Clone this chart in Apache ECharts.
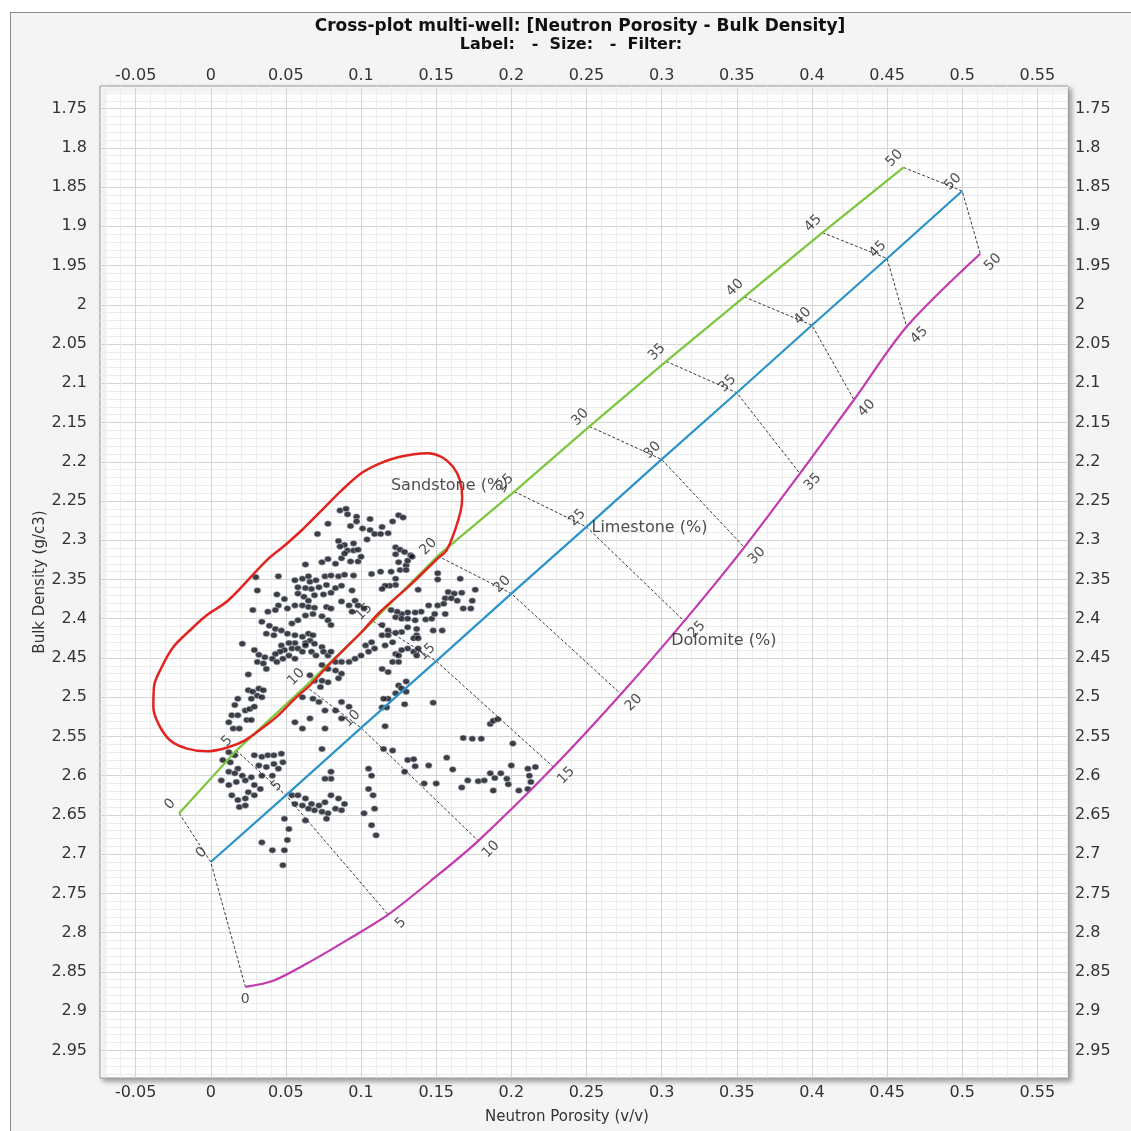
<!DOCTYPE html>
<html><head><meta charset="utf-8">
<script src="https://cdn.jsdelivr.net/npm/echarts@6/dist/echarts.min.js"></script>
<style>
html,body{margin:0;padding:0;background:#fff;}
#wrap{position:absolute;left:10px;top:12px;width:1121px;height:1119px;border-left:1px solid #8a8a8a;border-top:1px solid #8a8a8a;background:#f4f4f4;overflow:hidden;}
#chart{width:1121px;height:1119px;}
</style></head><body><div id="wrap"><div id="chart"></div></div>
<script>
// ---- axis ticks ----
const xTicks = [-0.05,0,0.05,0.1,0.15,0.2,0.25,0.3,0.35,0.4,0.45,0.5,0.55];
const yTicks = [1.75,1.8,1.85,1.9,1.95,2,2.05,2.1,2.15,2.2,2.25,2.3,2.35,2.4,2.45,2.5,2.55,2.6,2.65,2.7,2.75,2.8,2.85,2.9,2.95];
const xMin = -0.0737, xMax = 0.5704, yMin = 1.7212, yMax = 2.9852;

// ---- lithology lines (porosity ticks every 5%) ----
const porosityLabels = ['0','5','10','15','20','25','30','35','40','45','50'];
const sandNeutron = [-0.021,0.017,0.063,0.108,0.151,0.202,0.252,0.303,0.355,0.407,0.461];
const sandDensity = [2.648,2.568,2.486,2.403,2.320,2.238,2.155,2.072,1.990,1.908,1.825];
const limeNeutron = [0.000,0.050,0.100,0.150,0.200,0.250,0.300,0.350,0.400,0.450,0.500];
const limeDensity = [2.710,2.625,2.539,2.454,2.368,2.283,2.197,2.112,2.026,1.941,1.855];
const doloNeutron = [0.023,0.118,0.178,0.228,0.273,0.315,0.355,0.392,0.428,0.463,0.512];
const doloDensity = [2.869,2.777,2.683,2.589,2.496,2.403,2.309,2.215,2.121,2.028,1.935];
// dolomite curve shape points
const doloCurveNeutron = [0.023,0.042,0.068,0.092,0.118,0.149,0.178,0.228,0.273,0.315,0.355,0.392,0.428,0.463,0.512];
const doloCurveDensity = [2.869,2.861,2.835,2.808,2.777,2.730,2.683,2.589,2.496,2.403,2.309,2.215,2.121,2.028,1.935];
const lithologyNames = ['Sandstone (%)','Limestone (%)','Dolomite (%)'];

// ---- red highlight outline ----
const ellipseNeutron = [0.0605,0.0738,0.0871,0.1004,0.1126,0.1245,0.1352,0.1445,0.1536,0.1613,0.1658,0.1673,0.1664,0.1625,0.1569,0.1511,0.1325,0.1126,0.1004,0.0893,0.0782,0.0671,0.0560,0.0449,0.0339,0.0228,0.0115,-0.0025,-0.0158,-0.0271,-0.0349,-0.0382,-0.0378,-0.0326,-0.0249,-0.0138,-0.0027,0.0117,0.0372,0.0494,0.0605];
const ellipseDensity = [2.2873,2.2618,2.2364,2.2143,2.2020,2.1943,2.1905,2.1892,2.1939,2.2067,2.2236,2.2449,2.2618,2.2873,2.3128,2.3230,2.3574,2.3914,2.4169,2.4381,2.4593,2.4827,2.5018,2.5231,2.5400,2.5549,2.5638,2.5689,2.5655,2.5549,2.5336,2.5125,2.4870,2.4615,2.4360,2.4147,2.3956,2.3765,2.3256,2.3064,2.2873];

// ---- well data: neutron porosity (v/v) ----
const wellNeutron = [
0.148,0.129,0.116,0.168,0.174,0.180,0.201,0.186,0.188,0.191,0.157,0.161,0.200,0.145,0.142,0.150,0.167,0.171,0.178,0.182,0.186,0.189,0.193,0.197,0.198,0.205,0.211,0.216,0.212,0.213,0.211,0.188,0.131,0.135,0.129,0.136,0.121,0.115,
0.151,0.151,0.166,0.176,0.138,0.158,0.162,0.167,0.156,0.160,0.164,0.151,0.155,0.145,0.140,0.136,0.131,0.127,0.124,0.120,0.123,0.127,0.131,0.136,0.143,0.147,0.149,0.156,0.168,0.173,0.174,0.148,0.154,0.137,0.131,0.127,0.123,0.118,0.114,0.114,0.118,0.121,0.116,0.137,0.135,0.138,0.131,0.127,0.123,0.125,0.135,0.137,0.138,0.121,0.125,0.114,0.118,0.130,0.125,0.127,0.130,0.123,0.118,0.115,0.114,0.117,0.123,0.120,0.126,0.130,0.130,0.131,0.125,0.123,0.119,0.116,0.114,0.113,
0.030,0.045,0.031,0.028,0.063,0.074,0.078,0.083,0.087,0.093,0.098,0.107,0.056,0.061,0.065,0.066,0.070,0.076,0.080,0.085,0.089,0.095,0.058,0.063,0.067,0.072,0.077,0.083,0.087,0.094,0.058,0.062,0.065,0.069,0.075,0.080,0.044,0.049,0.045,0.043,0.038,0.051,0.056,0.061,0.065,0.069,0.077,0.080,0.087,0.092,0.096,0.098,0.094,0.102,0.034,0.039,0.043,0.037,0.042,0.047,0.051,0.054,0.058,0.063,0.068,0.074,0.078,0.080,0.056,0.061,0.065,0.068,0.066,0.063,0.056,0.052,0.047,0.049,0.054,0.058,0.063,0.061,0.069,0.074,0.046,0.043,0.041,0.036,0.032,0.029,0.031,0.035,0.037,0.021,0.044,0.048,0.052,0.056,0.067,0.070,0.075,0.078,0.080,0.083,0.087,0.092,0.096,0.103,0.107,0.109,0.105,0.100,0.074,0.078,0.083,0.087,0.085,0.078,0.074,0.069,0.066,0.025,
0.025,0.028,0.032,0.035,0.031,0.027,0.034,0.018,0.016,0.023,0.026,0.029,0.014,0.018,0.024,0.012,0.015,0.019,0.027,
0.073,0.061,0.068,0.072,0.076,0.083,0.087,0.092,0.087,0.076,0.056,0.061,0.066,
0.012,0.016,0.008,0.013,0.018,0.012,0.016,0.021,0.007,0.012,0.017,0.023,0.027,0.029,0.014,0.018,0.023,0.025,0.029,0.033,0.019,0.023,0.029,0.034,0.038,0.042,0.032,0.037,0.042,0.047,0.048,0.045,0.041,0.034,
0.054,0.058,0.063,0.067,0.072,0.076,0.080,0.085,0.089,0.083,0.078,0.074,0.069,0.065,0.061,0.056,0.087,0.063,0.077,
0.049,0.052,0.051,0.049,0.041,0.034,0.048,0.074,0.080,0.080,0.076,
0.105,0.107,0.105,0.108,0.109,0.102,0.107,0.110,
0.086,0.090,0.091,0.097,0.106,0.078,0.093,0.097,0.101,0.106,0.109,0.071,0.104,0.085,0.089,0.086,0.095,0.091,0.095,0.098,0.089,0.100,
0.125,0.128,0.121,0.114,0.118,0.113,0.123,0.126,0.129,0.123,0.133,0.134];
// ---- well data: bulk density (g/c3) ----
const wellDensity = [
2.507,2.509,2.537,2.552,2.553,2.553,2.559,2.534,2.530,2.528,2.577,2.592,2.587,2.587,2.610,2.610,2.615,2.606,2.607,2.606,2.597,2.603,2.597,2.604,2.611,2.619,2.591,2.589,2.600,2.608,2.617,2.619,2.580,2.579,2.595,2.588,2.568,2.566,
2.342,2.350,2.349,2.363,2.363,2.366,2.368,2.367,2.374,2.374,2.377,2.383,2.381,2.383,2.391,2.392,2.392,2.394,2.391,2.389,2.398,2.400,2.400,2.402,2.401,2.400,2.394,2.394,2.387,2.387,2.377,2.415,2.415,2.413,2.411,2.417,2.418,2.415,2.408,2.421,2.421,2.430,2.434,2.421,2.425,2.425,2.438,2.440,2.445,2.447,2.442,2.447,2.438,2.455,2.455,2.464,2.468,2.480,2.485,2.489,2.493,2.495,2.502,2.502,2.513,2.513,2.349,2.340,2.338,2.332,2.338,2.326,2.328,2.357,2.358,2.358,2.362,2.340,
2.347,2.346,2.364,2.389,2.331,2.328,2.324,2.330,2.323,2.327,2.327,2.343,2.351,2.349,2.346,2.353,2.351,2.346,2.345,2.346,2.344,2.345,2.360,2.361,2.362,2.360,2.357,2.361,2.358,2.364,2.368,2.372,2.377,2.370,2.369,2.367,2.369,2.375,2.383,2.389,2.391,2.387,2.383,2.383,2.385,2.386,2.385,2.387,2.378,2.383,2.377,2.383,2.391,2.387,2.404,2.409,2.413,2.419,2.421,2.415,2.419,2.406,2.402,2.396,2.394,2.397,2.402,2.408,2.421,2.423,2.419,2.421,2.428,2.431,2.431,2.431,2.434,2.440,2.438,2.438,2.434,2.442,2.432,2.436,2.442,2.445,2.451,2.449,2.446,2.440,2.455,2.457,2.464,2.432,2.455,2.451,2.447,2.451,2.442,2.447,2.442,2.447,2.442,2.455,2.455,2.455,2.451,2.434,2.430,2.438,2.442,2.447,2.459,2.464,2.466,2.470,2.476,2.481,2.479,2.479,2.472,2.471,
2.491,2.493,2.489,2.491,2.498,2.502,2.500,2.502,2.510,2.517,2.515,2.512,2.523,2.523,2.529,2.532,2.540,2.540,2.529,
2.487,2.500,2.502,2.506,2.517,2.517,2.506,2.512,2.527,2.540,2.532,2.540,2.527,
2.570,2.574,2.580,2.583,2.591,2.595,2.597,2.600,2.606,2.612,2.608,2.606,2.602,2.612,2.625,2.631,2.629,2.621,2.625,2.617,2.640,2.638,2.574,2.576,2.574,2.574,2.587,2.589,2.585,2.572,2.583,2.591,2.600,2.600,
2.625,2.625,2.629,2.636,2.638,2.634,2.625,2.629,2.636,2.642,2.648,2.646,2.644,2.642,2.638,2.636,2.644,2.657,2.655,
2.655,2.668,2.682,2.695,2.695,2.685,2.714,2.566,2.595,2.604,2.604,
2.591,2.600,2.617,2.625,2.642,2.648,2.663,2.676,
2.262,2.260,2.267,2.270,2.273,2.279,2.282,2.276,2.285,2.287,2.292,2.292,2.299,2.301,2.306,2.308,2.304,2.313,2.313,2.312,2.317,2.321,
2.268,2.271,2.276,2.283,2.291,2.292,2.309,2.312,2.315,2.318,2.319,2.321];

const FONT = 'DejaVu Sans';
function fmt(v){
  const k = v/0.05;
  if (Math.abs(k-Math.round(k))>1e-6) return '';
  const r = Math.round(v*100)/100;
  return String(r === 0 ? 0 : r);
}
function pts(a,b){ return a.map((v,i)=>[v,b[i]]); }

const chart = echarts.init(document.getElementById('chart'), null, {renderer:'canvas'});

function mkX(pos){
  return {type:'value', position:pos, min:xMin, max:xMax, splitNumber:13,
    axisLine:{show:false}, axisTick:{show:false, customValues:xTicks},
    axisLabel:{customValues:xTicks, formatter:fmt, color:'#333', fontFamily:FONT, fontSize:16, margin: pos==='top'?2:7},
    splitLine:{show:pos==='bottom', lineStyle:{color:'#d4d4d4', width:1}},
    minorTick:{show:false, splitNumber:5},
    minorSplitLine:{show:pos==='bottom', lineStyle:{color:'#ececec', width:1}}};
}
function mkY(pos){
  return {type:'value', position:pos, inverse:true, min:yMin, max:yMax, splitNumber:25,
    axisLine:{show:false}, axisTick:{show:false, customValues:yTicks},
    axisLabel:{customValues:yTicks, formatter:fmt, color:'#333', fontFamily:FONT, fontSize:16,
      margin: pos==='left'?13:7, align: pos==='left'?'right':'left'},
    splitLine:{show:pos==='left', lineStyle:{color:'#d4d4d4', width:1}},
    minorTick:{show:false, splitNumber:5},
    minorSplitLine:{show:pos==='left', lineStyle:{color:'#ececec', width:1}}};
}

function tickLabels(n, d, special){
  return pts(n,d).map((p,i)=>{
    const item = {value:[p[0],p[1],porosityLabels[i]]};
    if (special && special[i]) item.label = special[i];
    return item;
  });
}
const labelBase = {show:true, position:'inside', rotate:45, color:'#222', fontFamily:FONT, fontSize:14,
  align:'center', verticalAlign:'middle', formatter:p=>p.value[2]};

const connectors = porosityLabels.map((l,i)=>({coords:[[sandNeutron[i],sandDensity[i]],[limeNeutron[i],limeDensity[i]],[doloNeutron[i],doloDensity[i]]]}));

const option = {
  animation:false,
  backgroundColor:'#f4f4f4',
  grid:{left:89, top:73, width:968, height:992, show:true, backgroundColor:'#ffffff', borderColor:'#9a9a9a', borderWidth:1,
        shadowColor:'rgba(0,0,0,0.35)', shadowBlur:5, shadowOffsetX:3, shadowOffsetY:3},
  xAxis:[mkX('bottom'), mkX('top')],
  yAxis:[mkY('left'), mkY('right')],
  graphic:[
    {type:'text', x:569, y:14, style:{text:'Cross-plot multi-well: [Neutron Porosity - Bulk Density]', font:'bold 17px "DejaVu Sans"', fill:'#111', textAlign:'center', textVerticalAlign:'middle'}},
    {type:'text', x:560, y:32, style:{text:'Label:   -  Size:   -  Filter:', font:'bold 16px "DejaVu Sans"', fill:'#111', textAlign:'center', textVerticalAlign:'middle'}},
    {type:'text', x:556, y:1104, style:{text:'Neutron Porosity (v/v)', font:'15px "DejaVu Sans"', fill:'#333', textAlign:'center', textVerticalAlign:'middle'}},
    {type:'text', x:29, y:569, rotation:Math.PI/2, style:{text:'Bulk Density (g/c3)', font:'15px "DejaVu Sans"', fill:'#333', textAlign:'center', textVerticalAlign:'middle'}}
  ],
  series:[
    {type:'scatter', name:'wells', data:pts(wellNeutron, wellDensity), symbolSize:[7,6], z:3,
      itemStyle:{color:'#0e0f18', borderColor:'#c9d4dd', borderWidth:0.7}},
    {type:'lines', coordinateSystem:'cartesian2d', polyline:true, data:connectors, z:4, silent:true,
      lineStyle:{color:'#222', width:0.9, type:[3,2], opacity:1}},
    {type:'line', name:'Sandstone', data:pts(sandNeutron,sandDensity), showSymbol:false, z:5,
      lineStyle:{color:'#7cc63c', width:2.2}, itemStyle:{color:'#7cc63c'}},
    {type:'line', name:'Limestone', data:pts(limeNeutron,limeDensity), showSymbol:false, z:5,
      lineStyle:{color:'#2a93c9', width:2.2}, itemStyle:{color:'#2a93c9'}},
    {type:'line', name:'Dolomite', data:pts(doloCurveNeutron,doloCurveDensity), showSymbol:false, smooth:0.3, z:5,
      lineStyle:{color:'#c23aae', width:2.2}, itemStyle:{color:'#c23aae'}},
    {type:'line', name:'highlight', data:pts(ellipseNeutron,ellipseDensity), showSymbol:false, smooth:0.35, z:6,
      lineStyle:{color:'#e3231f', width:2.5}, itemStyle:{color:'#e3231f'}},
    {type:'scatter', data:tickLabels(sandNeutron,sandDensity), symbolSize:0, z:7, silent:true,
      label:Object.assign({}, labelBase, {offset:[0,-13]})},
    {type:'scatter', data:tickLabels(limeNeutron,limeDensity), symbolSize:0, z:7, silent:true,
      label:Object.assign({}, labelBase, {offset:[0,-13]})},
    {type:'scatter', data:tickLabels(doloNeutron,doloDensity,{0:{rotate:0, offset:[0,13]}}), symbolSize:0, z:7, silent:true,
      label:Object.assign({}, labelBase, {offset:[3,15]})},
    {type:'scatter', symbolSize:0, z:7, silent:true,
      data:[
        {value:[sandNeutron[5],sandDensity[5],lithologyNames[0]], label:{align:'right', offset:[-6,-6]}},
        {value:[limeNeutron[5],limeDensity[5],lithologyNames[1]], label:{align:'left', offset:[5,1]}},
        {value:[doloNeutron[5],doloDensity[5],lithologyNames[2]], label:{align:'left', offset:[-13,20]}}
      ],
      label:{show:true, position:'inside', color:'#222', fontFamily:FONT, fontSize:16, verticalAlign:'middle', formatter:p=>p.value[2]}}
  ]
};
chart.setOption(option);
</script></body></html>
